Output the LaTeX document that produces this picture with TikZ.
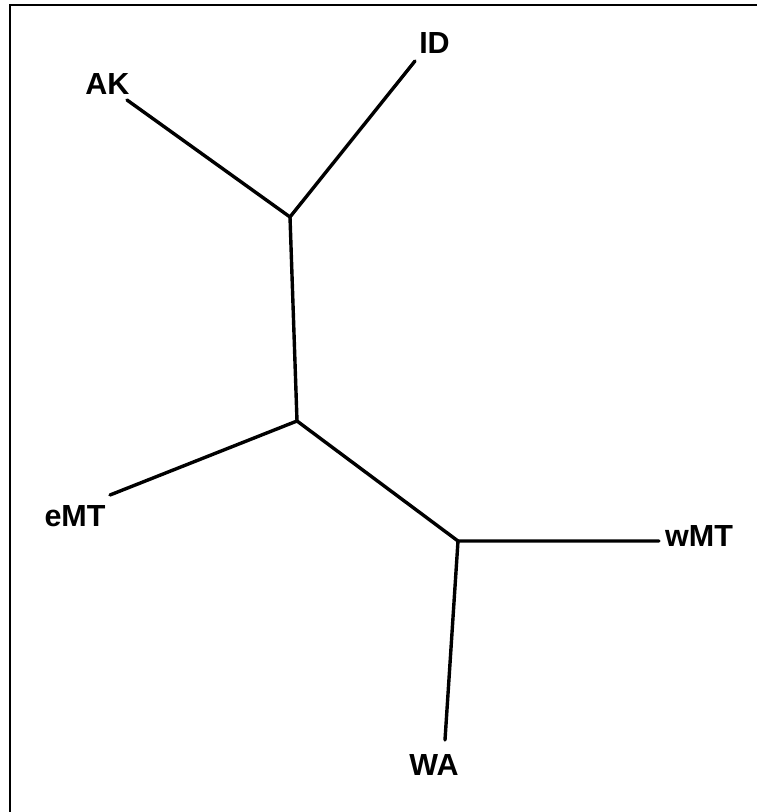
\documentclass[tikz,border=0pt]{standalone}
\usepackage{fontspec}
\setmainfont{Liberation Sans}
\begin{document}
\begin{tikzpicture}[x=1pt,y=-1pt,
  branch/.style={line width=3.4pt,line cap=round,line join=round},
  taxon/.style={font=\fontsize{30.5}{30.5}\selectfont\bfseries,inner sep=0pt,anchor=center}]
\useasboundingbox (0,0) rectangle (756,812);
% frame (only top and left edges fall inside the page)
\draw[line width=2.6pt] (10,830) -- (10,5) -- (780,5);
% internal nodes of the unrooted tree
\coordinate (n1) at (290,217);
\coordinate (n2) at (297,421);
\coordinate (n3) at (458,541);
% leaf tips
\coordinate (tAK) at (127,100);
\coordinate (tID) at (415,61);
\coordinate (teMT) at (110,495);
\coordinate (twMT) at (659,541);
\coordinate (tWA) at (445,740);
% labels
\node[taxon] (AK) at (107.5,84) {AK};
\node[taxon] (ID) at (434.5,43) {ID};
\node[taxon] (eMT) at (75,516) {eMT};
\node[taxon] (wMT) at (699,536) {wMT};
\node[taxon] (WA) at (434,765) {WA};
% branches
\draw[branch] (tAK) -- (n1) -- (tID);
\draw[branch] (n1) -- (n2);
\draw[branch] (teMT) -- (n2) -- (n3);
\draw[branch] (twMT) -- (n3) -- (tWA);
\end{tikzpicture}
\end{document}
